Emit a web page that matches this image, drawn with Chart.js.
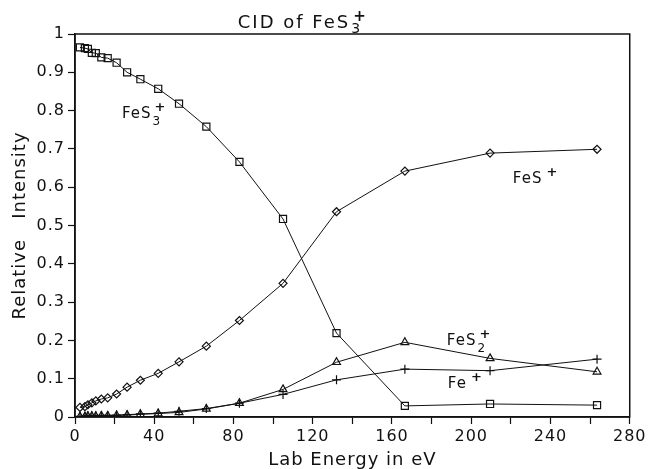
<!DOCTYPE html>
<html>
<head>
<meta charset="utf-8">
<script src="https://cdn.jsdelivr.net/npm/chart.js@4/dist/chart.umd.min.js"></script>
<style>
  html, body { margin: 0; padding: 0; background: #fff; }
  canvas { display: block; }
</style>
</head>
<body>
<canvas id="cid-chart" width="648" height="469"></canvas>
<script>
// CID of FeS3+ : relative intensity vs lab energy

// lab energies (eV)
const energies = [2.5, 5, 6.5, 8.5, 10.5, 13.3, 16.5, 21, 26.3, 33, 42, 52.5, 66.3, 83, 105, 132, 166.5, 209.5, 263.5];

// relative intensities per ion
const fes3 = [0.965, 0.963, 0.961, 0.951, 0.950, 0.939, 0.937, 0.925, 0.900, 0.882, 0.857, 0.818, 0.758, 0.666, 0.517, 0.219, 0.029, 0.034, 0.031];
const fes  = [0.025, 0.027, 0.032, 0.037, 0.042, 0.047, 0.050, 0.060, 0.078, 0.096, 0.114, 0.144, 0.185, 0.252, 0.349, 0.536, 0.642, 0.689, 0.699];
const fes2 = [0.001, 0.001, 0.002, 0.002, 0.002, 0.003, 0.003, 0.004, 0.005, 0.007, 0.009, 0.012, 0.021, 0.036, 0.072, 0.143, 0.195, 0.153, 0.118];
const fe   = [0.002, 0.002, 0.003, 0.003, 0.003, 0.004, 0.004, 0.005, 0.006, 0.008, 0.010, 0.015, 0.022, 0.036, 0.059, 0.097, 0.125, 0.121, 0.151];

// axis ticks
const xTickLabels = [0, 40, 80, 120, 160, 200, 240, 280];
const yTickLabels = ['0', '0.1', '0.2', '0.3', '0.4', '0.5', '0.6', '0.7', '0.8', '0.9', '1'];

const INK = '#111';
const FONT = 'DejaVu Sans';

function toPoints(ys) {
    return energies.map((e, i) => ({ x: e, y: ys[i] }));
}

// draws e.g. FeS3+ with a lowered subscript and raised superscript
function drawChem(ctx, x, y, base, sub, sup, size, subDrop, supRise) {
    ctx.font = size + 'px "' + FONT + '"';
    ctx.textAlign = 'left';
    ctx.textBaseline = 'alphabetic';
    ctx.fillText(base, x, y);
    const w = ctx.measureText(base).width;
    if (sub) {
        ctx.font = Math.round(size * 0.78) + 'px "' + FONT + '"';
        ctx.fillText(sub, x + w + 1, y + size * subDrop);
    }
    if (sup) {
        const sx = sub ? x + w + 3 : x + w + 4;
        ctx.font = 'bold ' + Math.round(size * 0.85) + 'px "' + FONT + '"';
        ctx.fillText(sup, sx, y - size * supRise);
    }
}

// in-plot labels, anchored in data coordinates
const labels = [
    { x: 23.7, y: 0.781, base: 'FeS', sub: '3', sup: '+' },
    { x: 221, y: 0.611, base: 'FeS', sub: '', sup: '+' },
    { x: 187.7, y: 0.188, base: 'FeS', sub: '2', sup: '+' },
    { x: 188.2, y: 0.076, base: 'Fe', sub: '', sup: '+' },
];

const decorPlugin = {
    id: 'decor',
    beforeDraw(chart) {
        chart.ctx.letterSpacing = '1px';
    },
    afterDatasetsDraw(chart) {
        const { ctx, chartArea: a, scales } = chart;
        ctx.save();
        // frame
        ctx.strokeStyle = INK;
        ctx.lineWidth = 1.5;
        ctx.strokeRect(a.left, a.top, a.right - a.left, a.bottom - a.top);
        // series labels
        ctx.fillStyle = INK;
        ctx.letterSpacing = '1px';
        labels.forEach(l => {
            drawChem(ctx, scales.x.getPixelForValue(l.x), scales.y.getPixelForValue(l.y),
                l.base, l.sub, l.sup, 15, 0.5, 0.45);
        });
        // title
        ctx.letterSpacing = '2px';
        ctx.font = '18px "' + FONT + '"';
        const full = 'CID of FeS';
        const w = ctx.measureText(full).width + 12;
        drawChem(ctx, 300 - w / 2, 28, full, '3', '+', 18, 0.25, 0.37);
        ctx.restore();
    }
};

const tickFont = { family: FONT, size: 16 };
const titleFont = { family: FONT, size: 18, lineHeight: 1 };

const ds = (label, ys, style, radius) => ({
    label: label,
    data: toPoints(ys),
    borderColor: INK,
    borderWidth: 1,
    pointStyle: style,
    pointRadius: radius,
    pointBorderColor: INK,
    pointBorderWidth: 1.2,
    pointBackgroundColor: 'rgba(255,255,255,0)',
    tension: 0,
    fill: false,
});

new Chart(document.getElementById('cid-chart'), {
    type: 'line',
    data: {
        datasets: [
            ds('FeS3+', fes3, 'rect', 5),
            ds('FeS+', fes, 'rectRot', 4),
            ds('FeS2+', fes2, 'triangle', 4.5),
            ds('Fe+', fe, 'cross', 4.5),
        ]
    },
    options: {
        responsive: false,
        animation: false,
        layout: { padding: { top: 34, right: 18, left: 0, bottom: 0 } },
        plugins: {
            legend: { display: false },
            tooltip: { enabled: false },
        },
        scales: {
            x: {
                type: 'linear',
                min: 0,
                max: 280,
                afterFit: s => { s.height = 52; },
                ticks: {
                    stepSize: 20,
                    autoSkip: false,
                    maxRotation: 0,
                    padding: 3,
                    color: INK,
                    font: tickFont,
                    callback: v => xTickLabels.includes(v) ? String(v) : '',
                },
                grid: { drawOnChartArea: false, tickLength: 7, color: INK, tickWidth: 1.2 },
                border: { color: INK, width: 1.5 },
                title: { display: true, text: 'Lab Energy in eV', color: INK, font: titleFont, padding: { top: 0, bottom: 0 } },
            },
            y: {
                min: 0,
                max: 1,
                afterFit: s => { s.width = 75; },
                ticks: {
                    stepSize: 0.1,
                    padding: 3,
                    color: INK,
                    font: tickFont,
                    callback: v => yTickLabels[Math.round(v * 10)],
                },
                grid: { drawOnChartArea: false, tickLength: 7, color: INK, tickWidth: 1.2 },
                border: { color: INK, width: 1.5 },
                title: { display: true, text: 'Relative   Intensity', color: INK, font: titleFont, padding: { top: 11, bottom: 0 } },
            },
        },
    },
    plugins: [decorPlugin],
});
</script>
</body>
</html>
